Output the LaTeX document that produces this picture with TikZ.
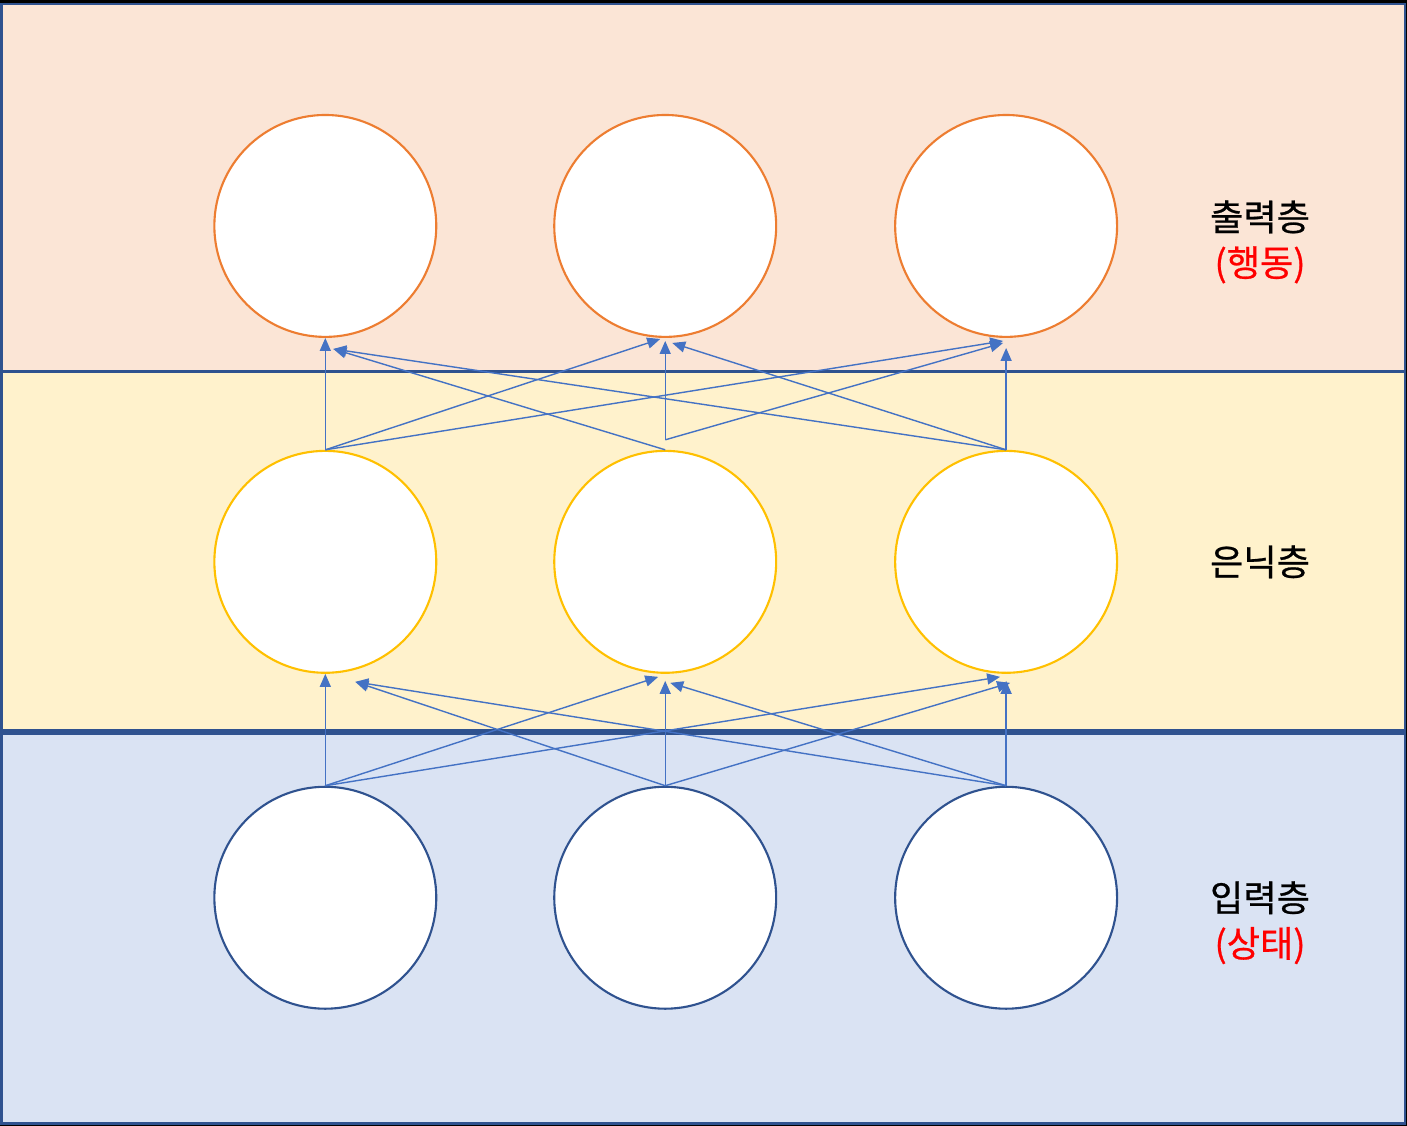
\documentclass[tikz,border=0pt]{standalone}
\usepackage{fontspec}
\newfontfamily\krfont[FakeBold=0.7]{Noto Sans CJK KR}
\usetikzlibrary{arrows.meta}
\definecolor{outbg}{HTML}{FBE5D6}
\definecolor{hidbg}{HTML}{FFF2CC}
\definecolor{inbg}{HTML}{DAE3F3}
\definecolor{outline}{HTML}{ED7D31}
\definecolor{hidline}{HTML}{FFC000}
\definecolor{inline}{HTML}{2F528F}
\definecolor{linkblue}{HTML}{4472C4}
\definecolor{bandline}{HTML}{2F528F}
\begin{document}
\begin{tikzpicture}
                                [
                                    neuron/.style = {draw, shape=circle, minimum size=2.22cm, fill=white, line width=0.6pt},
                                    link/.style = {draw=linkblue, line width=0.4pt, -{Triangle[length=1.3mm,width=1.1mm]}},
                                    band/.style = {draw=bandline, line width=0.8pt},
                                    layername/.style = {font=\krfont\fontsize{10.3}{13}\selectfont, align=center},
                                ]

                                \fill[black] (0,0) rectangle (14.07,-11.26);
                                \filldraw[band, fill=outbg] (0.01,-0.04) rectangle (14.05,-3.72);
                                \filldraw[band, fill=hidbg] (0.01,-3.72) rectangle (14.05,-7.31);
                                \filldraw[band, fill=inbg] (0.01,-7.34) rectangle (14.05,-11.24);

                                \node[neuron, draw=outline] (o1) at (3.25,-2.26) {};
                                \node[neuron, draw=outline] (o2) at (6.65,-2.26) {};
                                \node[neuron, draw=outline] (o3) at (10.06,-2.26) {};

                                \node[neuron, draw=hidline] (h1) at (3.25,-5.62) {};
                                \node[neuron, draw=hidline] (h2) at (6.65,-5.62) {};
                                \node[neuron, draw=hidline] (h3) at (10.06,-5.62) {};

                                \node[neuron, draw=inline] (i1) at (3.25,-8.98) {};
                                \node[neuron, draw=inline] (i2) at (6.65,-8.98) {};
                                \node[neuron, draw=inline] (i3) at (10.06,-8.98) {};

                                \node[layername] (outname) at (12.6,-2.42) {출력층\\\textcolor{red}{(행동)}};
                                \node[layername] (hidname) at (12.6,-5.62) {은닉층};
                                \node[layername] (inname) at (12.6,-9.23) {입력층\\\textcolor{red}{(상태)}};

                                \draw [link] (h1.north) -- (o1.south);
                                \draw [link] (h1.north) -- ([shift={(-0.05,-0.01)}]o2.south);
                                \draw [link] (h1.north) -- ([shift={(-0.03,-0.03)}]o3.south);
                                \draw [link] (h2.north) -- ([shift={(0.08,-0.11)}]o1.south);
                                \draw [link] ([yshift=0.1cm]h2.north) -- ([yshift=-0.03cm]o2.south);
                                \draw [link] ([yshift=0.1cm]h2.north) -- ([shift={(-0.03,-0.05)}]o3.south);
                                \draw [link] (h3.north) -- ([shift={(0.08,-0.11)}]o1.south);
                                \draw [link] (h3.north) -- ([shift={(0.07,-0.05)}]o2.south);
                                \draw [link] (h3.north) -- ([yshift=-0.1cm]o3.south);

                                \draw [link] (i1.north) -- (h1.south);
                                \draw [link] (i1.north) -- ([shift={(-0.07,-0.03)}]h2.south);
                                \draw [link] (i1.north) -- ([shift={(-0.06,-0.03)}]h3.south);
                                \draw [link] (i2.north) -- ([shift={(0.30,-0.08)}]h1.south);
                                \draw [link] (i2.north) -- ([yshift=-0.07cm]h2.south);
                                \draw [link] (i2.north) -- ([shift={(0.04,-0.09)}]h3.south);
                                \draw [link] (i3.north) -- ([shift={(0.30,-0.08)}]h1.south);
                                \draw [link] (i3.north) -- ([shift={(0.05,-0.09)}]h2.south);
                                \draw [link] (i3.north) -- ([yshift=-0.07cm]h3.south);
                            \end{tikzpicture}
\end{document}
